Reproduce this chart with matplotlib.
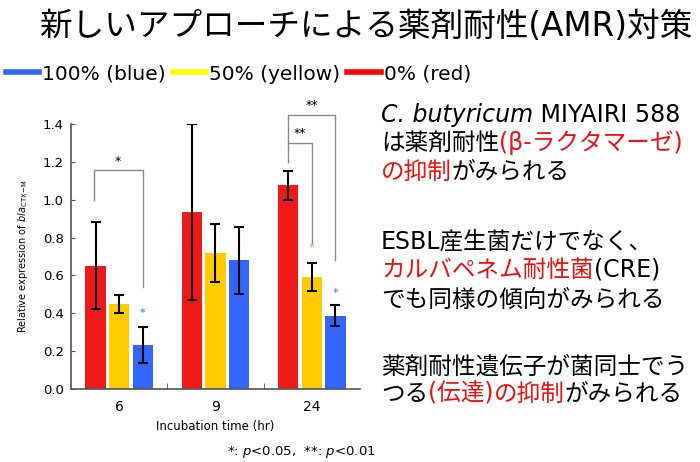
import numpy as np
import matplotlib
matplotlib.use("Agg")
import matplotlib.pyplot as plt
from matplotlib.lines import Line2D

plt.rcParams['font.family'] = ['DejaVu Sans', 'Noto Sans CJK JP']

# data
times = ['6', '9', '24']
red_vals = [0.652, 0.936, 1.076]
red_err = [0.229, 0.465, 0.078]
yellow_vals = [0.450, 0.718, 0.594]
yellow_err = [0.048, 0.153, 0.074]
blue_vals = [0.234, 0.681, 0.387]
blue_err = [0.095, 0.177, 0.056]

RED = '#EE1A1A'
YELLOW = '#FFCC00'
BLUE = '#3366FF'

W, H = 700, 462
fig = plt.figure(figsize=(W / 100, H / 100), dpi=100)
ax = fig.add_axes([71 / W, 1 - 389 / H, 289 / W, 265 / H])

x = np.arange(len(times))
off = 0.245
bw = 0.21
ekw = dict(elinewidth=1.5, capthick=1.5, ecolor='black')
ax.bar(x - off, red_vals, bw, yerr=red_err, color=RED, capsize=3.5, error_kw=ekw)
ax.bar(x, yellow_vals, bw, yerr=yellow_err, color=YELLOW, capsize=3.5, error_kw=ekw)
ax.bar(x + off, blue_vals, bw, yerr=blue_err, color=BLUE, capsize=3.5, error_kw=ekw)

ax.set_xlim(-0.5, 2.5)
ax.set_ylim(0, 1.4)
ax.set_yticks(np.arange(0, 1.41, 0.2))
ax.set_yticklabels(['%.1f' % v for v in np.arange(0, 1.41, 0.2)], fontsize=9.5)
ax.set_xticks(x)
ax.set_xticklabels(times, fontsize=10)
ax.set_xticks([0.5, 1.5], minor=True)
ax.tick_params(axis='x', which='major', length=0, pad=8)
ax.tick_params(axis='x', which='minor', direction='in', length=4, color='#555555')
ax.tick_params(axis='y', direction='in', length=3, color='#555555', pad=5)
for s in ['top', 'right']:
    ax.spines[s].set_visible(False)
for s in ['left', 'bottom']:
    ax.spines[s].set_color('#555555')
    ax.spines[s].set_linewidth(1.2)

ax.set_xlabel('Incubation time (hr)', fontsize=8.5, labelpad=4)
ax.set_ylabel(r'Relative expression of $\it{bla}_{\rm CTX\!-\!M}$', fontsize=7, labelpad=9)

# significance brackets
gray = '#888888'
def bracket(x1, x2, y1, y2, ytop, label, ly):
    ax.plot([x1, x1, x2, x2], [y1, ytop, ytop, y2], color=gray, lw=1, clip_on=False)
    ax.text((x1 + x2) / 2, ly, label, ha='center', va='center', fontsize=9, clip_on=False)

bracket(-off - 0.02, off, 1.0, 0.54, 1.157, '*', 1.2)
bracket(2 - off, 2, 1.20, 0.77, 1.30, '**', 1.35)
bracket(2 - off, 2 + off, 1.30, 0.68, 1.447, '**', 1.50)

ax.text(off, 0.40, '*', color=BLUE, ha='center', va='center', fontsize=8)
ax.text(2, 0.744, '*', color='#F5A623', ha='center', va='center', fontsize=8)
ax.text(2 + off, 0.507, '*', color=BLUE, ha='center', va='center', fontsize=8)

fig.text(301 / W, 1 - 452 / H, r'*: $\it{p}$<0.05,  **: $\it{p}$<0.01', ha='center', va='center',
         fontsize=9.5)

# title
fig.text(0.522, 1 - 26 / H, '新しいアプローチによる薬剤耐性(AMR)対策', ha='center', va='center',
         fontsize=23.5)

# legend
handles = [Line2D([], [], color=BLUE, lw=4), Line2D([], [], color='#FFFF00', lw=4),
           Line2D([], [], color='#FF0000', lw=4)]
fig.legend(handles, ['100% (blue)', '50% (yellow)', '0% (red)'], ncol=3, frameon=False,
           loc='center left', bbox_to_anchor=(-0.003, 1 - 74 / H),
           handlelength=1.65, handletextpad=0.15, columnspacing=0.35, borderaxespad=0,
           prop={'size': 14.5})

# right side text with coloured parts
renderer = fig.canvas.get_renderer()
def rich(px, py, parts, size=17):
    cur = px
    for s, color, extra in parts:
        t = fig.text(cur / W, 1 - py / H, s, color=color, fontsize=size, va='center',
                     ha='left', **extra)
        cur += t.get_window_extent(renderer).width

K = 'black'
R = '#EE1111'
it = dict(style='italic')
rich(381, 115, [('C. butyricum', K, it), (' MIYAIRI 588', K, {})])
rich(381, 143, [('は薬剤耐性', K, {}), ('(β-ラクタマーゼ)', R, {})])
rich(381, 172, [('の抑制', R, {}), ('がみられる', K, {})])
rich(381, 242, [('ESBL産生菌だけでなく、', K, {})])
rich(381, 270, [('カルバペネム耐性菌', R, {}), ('(CRE)', K, {})])
rich(381, 300, [('でも同様の傾向がみられる', K, {})])
rich(381, 367, [('薬剤耐性遺伝子が菌同士でう', K, {})])
rich(381, 394, [('つる', K, {}), ('(伝達)', R, {}), ('の抑制', R, {}), ('がみられる', K, {})])

fig.savefig('out.png', dpi=100)
